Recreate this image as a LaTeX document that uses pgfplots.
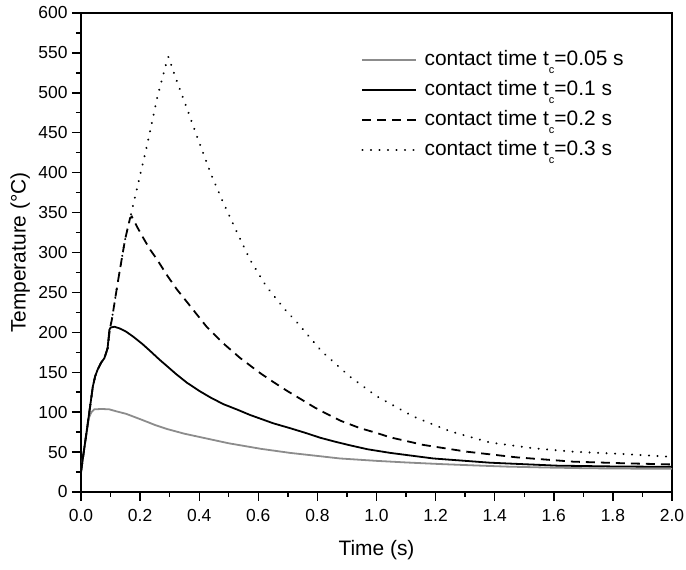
\documentclass[border=0pt]{standalone}
\usepackage{fontspec}
\setmainfont{Liberation Sans}
\usepackage{pgfplots}
\pgfplotsset{compat=1.18}
\definecolor{curvegray}{RGB}{140,140,140}
\newcommand{\tc}{t\raisebox{-8bp}{\fontsize{11}{11}\selectfont c}}
\begin{document}
\begin{tikzpicture}
\begin{axis}[
  name=ax,
  width=591bp, height=479bp, scale only axis,
  xmin=0, xmax=2, ymin=0, ymax=600,
  xtick={0,0.2,0.4,0.6,0.8,1.0,1.2,1.4,1.6,1.8,2.0},
  ytick={0,50,100,150,200,250,300,350,400,450,500,550,600},
  minor x tick num=1, minor y tick num=1,
  tick align=outside, xtick pos=bottom, ytick pos=left,
  major tick length=9bp, minor tick length=5bp,
  axis line style={line width=1.6bp},
  every tick/.style={line width=1.4bp, black},
  /pgf/number format/assume math mode=true,
  xticklabel style={/pgf/number format/fixed, /pgf/number format/fixed zerofill, /pgf/number format/precision=1, yshift=-5bp},
  yticklabel style={xshift=-1bp},
  tick label style={font=\fontsize{17.5}{20}\selectfont},
  label style={font=\fontsize{21}{24}\selectfont},
  xlabel={Time (s)}, ylabel={Temperature (°C)},
  xlabel style={at={(axis description cs:0.5,-0.121)}, anchor=center},
  ylabel style={at={(axis description cs:-0.103,0.5)}, anchor=center},
  legend style={draw=none, fill=none, at={(0.469,0.93)}, anchor=north west,
    font=\fontsize{21}{24}\selectfont, row sep=7bp,
    nodes={inner ysep=2bp, inner xsep=4bp, text height=15bp, text depth=4bp}},
  legend cell align=left,
  legend image code/.code={\draw[#1] (0bp,0bp) -- (54bp,0bp); \path (57bp,0bp);},
]
\addplot[curvegray, line width=1.8bp] coordinates {
(0,25) (0.01,52) (0.02,76) (0.026,92) (0.035,100) (0.045,103.5) (0.07,104) (0.096,103.5)
(0.12,101) (0.152,98) (0.177,94.5) (0.209,90) (0.25,84) (0.29,79) (0.35,73) (0.425,67)
(0.5,61) (0.61,54) (0.707,49) (0.78,46) (0.876,42) (1.0,39) (1.1,37) (1.215,35)
(1.33,33.3) (1.44,31.8) (1.58,30.6) (1.72,29.7) (1.86,29.3) (2.0,29)};
\addlegendentry{contact time \tc=0.05 s}
\addplot[black, line width=1.8bp] coordinates {
(0,25) (0.01,52) (0.02,78) (0.03,105) (0.04,132) (0.048,145) (0.056,153) (0.068,162)
(0.079,167.5) (0.09,180) (0.096,203) (0.1,206) (0.113,207) (0.13,205) (0.152,201)
(0.177,194.5) (0.209,185) (0.233,177) (0.265,166) (0.29,158) (0.321,148) (0.358,137)
(0.403,126) (0.44,118) (0.482,110) (0.53,103) (0.572,96.5) (0.651,86) (0.707,80)
(0.76,74) (0.809,68) (0.86,63) (0.91,58.5) (0.97,53.5) (1.046,49) (1.192,42)
(1.384,36.7) (1.61,33) (1.8,32) (2.0,31.5)};
\addlegendentry{contact time \tc=0.1 s}
\addplot[black, line width=1.8bp, dash pattern=on 9bp off 6bp] coordinates {
(0,25) (0.01,52) (0.02,78) (0.03,105) (0.04,132) (0.048,145) (0.056,153) (0.068,162)
(0.079,167.5) (0.09,180) (0.098,205) (0.104,215) (0.126,266) (0.149,316) (0.166,343)
(0.172,345) (0.19,332) (0.211,318) (0.235,303) (0.256,292) (0.292,271) (0.324,254)
(0.35,242) (0.38,228) (0.425,207) (0.482,186) (0.538,168) (0.606,149) (0.65,138)
(0.696,127) (0.741,117) (0.79,106) (0.831,98) (0.88,89) (0.944,80) (1.0,74) (1.046,68.5)
(1.158,59) (1.305,50.5) (1.474,43.4) (1.665,38) (1.834,36) (2.0,34.5)};
\addlegendentry{contact time \tc=0.2 s}
\addplot[black, line width=2.2bp, line cap=round, dash pattern=on 0.01bp off 8.5bp] coordinates {
(0,25) (0.01,52) (0.02,78) (0.03,105) (0.04,132) (0.048,145) (0.056,153) (0.068,162)
(0.079,167.5) (0.09,180) (0.098,205) (0.104,215) (0.126,266) (0.149,316) (0.166,343)
(0.178,362) (0.224,435) (0.258,494) (0.292,542) (0.296,545) (0.32,519) (0.349,490)
(0.394,444) (0.44,398) (0.482,362) (0.527,326) (0.572,291) (0.628,257) (0.696,226)
(0.73,213) (0.815,176) (0.91,144.5) (1.0,120) (1.125,94.5) (1.249,76) (1.384,62)
(1.53,54.8) (1.665,50.5) (1.834,47.6) (2.0,44)};
\addlegendentry{contact time \tc=0.3 s}
\end{axis}
\pgfresetboundingbox
\path ([xshift=-81bp,yshift=-78bp]ax.south west) rectangle ([xshift=14bp,yshift=13bp]ax.north east);
\end{tikzpicture}
\end{document}
